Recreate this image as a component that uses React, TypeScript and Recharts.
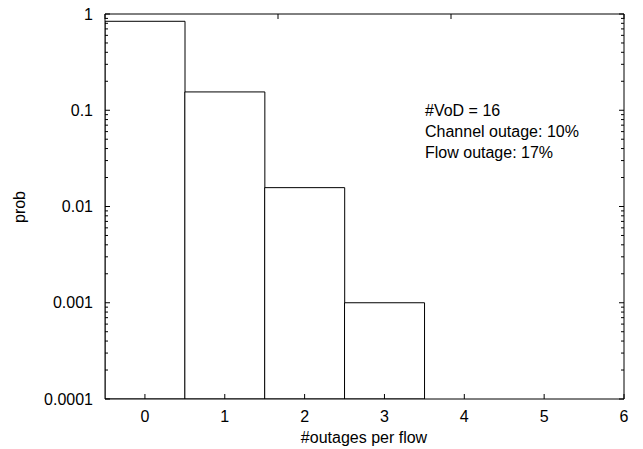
import { ComposedChart, Bar, XAxis, YAxis, Customized } from "recharts";

// outage count per flow and its probability
const outages = [0, 1, 2, 3];
const probs = [0.84, 0.155, 0.0157, 0.001];

const xTicks = [0, 1, 2, 3, 4, 5, 6];
const yMajor = [0.0001, 0.001, 0.01, 0.1, 1];
const yMinorSteps = [2, 3, 4, 5, 6, 7, 8, 9];
const yMajorLabels = ["0.0001", "0.001", "0.01", "0.1", "1"];

const notes = ["#VoD = 16", "Channel outage: 10%", "Flow outage: 17%"];

const data = outages.map((k, i) => ({ k, p: probs[i] }));

const yTicks: number[] = [];
yMajor.forEach((d, i) => {
  yTicks.push(d);
  if (i < yMajor.length - 1) yMinorSteps.forEach((m) => yTicks.push(d * m));
});

const FONT = "'Liberation Sans', Arial, Helvetica, sans-serif";
const FS = 16;

const isMajor = (v: number) => yMajor.some((d) => Math.abs(d - v) / d < 1e-6);

function LeftTick(props: any) {
  const { x, y, payload } = props;
  const v = payload.value;
  const major = isMajor(v);
  const idx = yMajor.findIndex((d) => Math.abs(d - v) / d < 1e-6);
  return (
    <g>
      <line x1={x} x2={x + (major ? 5 : 3)} y1={y} y2={y} stroke="#000" />
      {major && (
        <text x={x - 12} y={y + 5.5} textAnchor="end" fontSize={FS} fontFamily={FONT} fill="#000">
          {yMajorLabels[idx]}
        </text>
      )}
    </g>
  );
}

function RightTick(props: any) {
  const { x, y, payload } = props;
  const major = isMajor(payload.value);
  return <line x1={x} x2={x - (major ? 5 : 3)} y1={y} y2={y} stroke="#000" />;
}

function BottomTick(props: any) {
  const { x, y, payload } = props;
  return (
    <g>
      <line x1={x} x2={x} y1={y} y2={y - 5} stroke="#000" />
      <text x={x} y={y + 23} textAnchor="middle" fontSize={FS} fontFamily={FONT} fill="#000">
        {payload.value}
      </text>
    </g>
  );
}

function TopTick(props: any) {
  const { x, y } = props;
  return <line x1={x} x2={x} y1={y} y2={y + 5} stroke="#000" />;
}

function Labels() {
  return (
    <g fontFamily={FONT} fontSize={FS} fill="#000">
      <text x={364} y={443} textAnchor="middle">#outages per flow</text>
      <text x={25} y={207} textAnchor="middle" transform="rotate(-90 25 207)">prob</text>
      {notes.map((t, i) => (
        <text key={t} x={425} y={116 + i * 21}>{t}</text>
      ))}
    </g>
  );
}

export default function App() {
  return (
    <div style={{ position: "absolute", left: 0, top: 0, background: "#fff" }}>
      <ComposedChart
        width={643}
        height={449}
        data={data}
        margin={{ top: 13, right: 9, bottom: 20, left: 45 }}
        barCategoryGap={0}
        barGap={0}
      >
        <XAxis
          dataKey="k"
          type="number"
          domain={[-0.5, 6]}
          allowDataOverflow
          ticks={xTicks}
          height={30}
          tickSize={0}
          tickMargin={0}
          tickLine={false}
          axisLine={{ stroke: "#000" }}
          tick={<BottomTick />}
          interval={0}
        />
        <XAxis
          xAxisId="top"
          orientation="top"
          type="number"
          domain={[-0.5, 6]}
          allowDataOverflow
          ticks={xTicks}
          height={1}
          tickSize={0}
          tickMargin={0}
          tickLine={false}
          axisLine={{ stroke: "#000" }}
          tick={<TopTick />}
          interval={0}
        />
        <YAxis
          scale="log"
          type="number"
          domain={[0.0001, 1]}
          allowDataOverflow
          ticks={yTicks}
          width={60}
          tickSize={0}
          tickMargin={0}
          tickLine={false}
          axisLine={{ stroke: "#000" }}
          tick={<LeftTick />}
          interval={0}
        />
        <YAxis
          yAxisId="right"
          orientation="right"
          scale="log"
          type="number"
          domain={[0.0001, 1]}
          allowDataOverflow
          ticks={yTicks}
          width={10}
          tickSize={0}
          tickMargin={0}
          tickLine={false}
          axisLine={{ stroke: "#000" }}
          tick={<RightTick />}
          interval={0}
        />
        <Bar dataKey="p" fill="#fff" stroke="#000" strokeWidth={1} isAnimationActive={false} />
        <Customized component={Labels} />
      </ComposedChart>
    </div>
  );
}
